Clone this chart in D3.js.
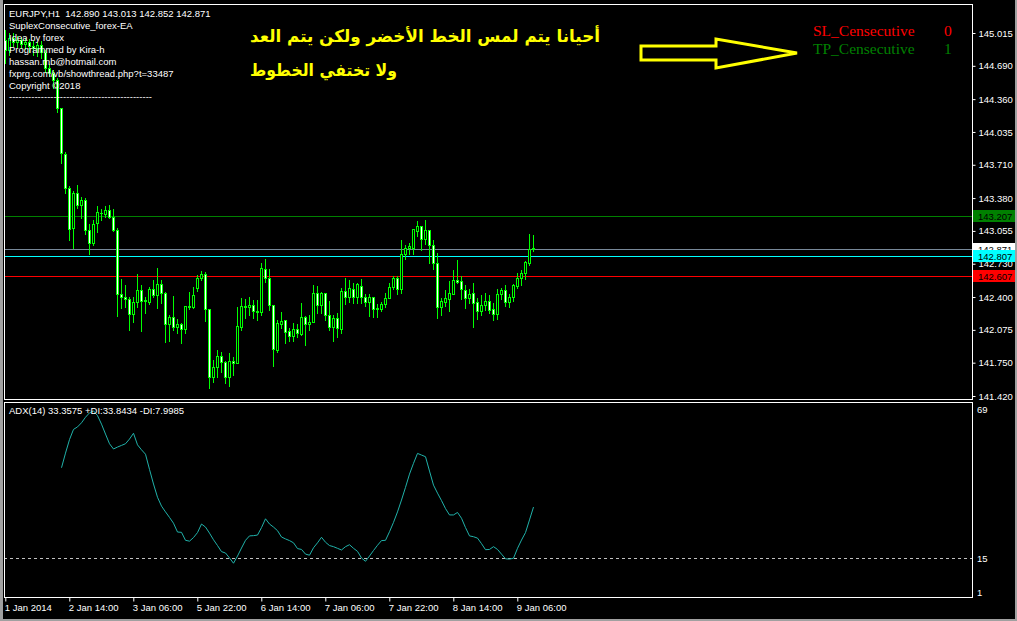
<!DOCTYPE html>
<html>
<head>
<meta charset="utf-8">
<script src="https://cdnjs.cloudflare.com/ajax/libs/d3/7.8.5/d3.min.js"></script>
<style>
  body { margin: 0; background: #000; }
  svg text { font-family: "Liberation Sans", Arial, sans-serif; white-space: pre; }
  svg text.serif { font-family: "Liberation Serif", "Times New Roman", serif; }
  svg text.arabic { font-family: "DejaVu Sans", sans-serif; font-weight: bold; }
</style>
</head>
<body>
<div id="chart"></div>
<script>
// EURJPY H1 candles (bar 0 = 1 Jan 2014)
var opens = [144.946,144.847,144.966,144.926,144.946,144.906,144.926,144.887,144.867,144.897,
  144.827,144.669,144.619,144.550,144.273,143.817,143.481,143.085,143.431,143.312,
  143.362,143.065,142.936,143.134,143.233,143.223,143.263,143.194,143.065,142.431,
  142.402,142.382,142.233,142.352,142.471,142.362,142.352,142.481,142.421,142.530,
  142.441,142.134,142.204,142.105,142.134,142.085,142.313,142.303,142.491,142.590,
  142.629,142.283,141.610,141.709,141.818,141.758,141.610,141.768,141.748,142.105,
  142.313,142.303,142.323,142.263,142.253,142.679,142.590,142.323,141.877,142.134,
  142.174,142.065,142.016,142.085,142.035,142.204,142.134,142.154,142.441,142.323,
  142.441,142.224,142.105,142.194,142.085,142.461,142.402,142.481,142.402,142.511,
  142.402,142.352,142.402,142.293,142.283,142.332,142.392,142.501,142.590,142.481,
  142.827,142.887,142.887,143.055,143.105,142.976,143.065,142.917,142.738,142.303,
  142.352,142.382,142.431,142.570,142.560,142.471,142.392,142.441,142.352,142.263,
  142.323,142.362,142.283,142.233,142.431,142.471,142.352,142.402,142.511,142.590,
  142.639,142.738,142.890]
var highs = [145.045,145.015,145.015,144.986,144.976,144.966,144.956,144.936,144.926,144.936,
  144.847,144.708,144.649,144.570,144.273,143.837,143.501,143.451,143.511,143.392,
  143.382,143.124,143.164,143.303,143.273,143.303,143.312,143.273,143.085,142.580,
  142.521,142.402,142.402,142.629,142.521,142.402,142.501,142.570,142.689,142.570,
  142.451,142.224,142.412,142.184,142.144,142.313,142.451,142.501,142.620,142.659,
  142.649,142.283,141.778,141.877,141.857,141.768,141.847,141.808,142.303,142.392,
  142.382,142.402,142.372,142.372,142.738,142.778,142.679,142.323,142.174,142.253,
  142.174,142.095,142.144,142.134,142.342,142.214,142.224,142.521,142.511,142.451,
  142.441,142.362,142.224,142.243,142.491,142.590,142.570,142.540,142.540,142.580,
  142.431,142.431,142.402,142.332,142.352,142.441,142.540,142.610,142.610,142.966,
  142.917,142.936,143.075,143.154,143.105,143.164,143.065,142.966,142.837,142.392,
  142.471,142.560,142.669,142.768,142.610,142.521,142.481,142.540,142.392,142.421,
  142.441,142.421,142.342,142.481,142.491,142.521,142.431,142.530,142.639,142.669,
  142.758,143.025,143.013]
var lows = [144.718,144.798,144.887,144.877,144.867,144.857,144.827,144.798,144.788,144.768,
  144.629,144.590,144.471,144.233,143.728,143.431,142.966,142.887,143.283,143.184,
  143.025,142.827,142.917,143.045,143.164,143.194,143.184,143.055,142.214,142.293,
  142.303,142.075,142.154,142.303,142.065,142.243,142.332,142.402,142.293,142.342,
  141.956,141.966,142.075,142.045,141.946,142.045,142.283,142.293,142.461,142.570,
  142.164,141.501,141.560,141.610,141.659,141.550,141.521,141.630,141.748,142.075,
  142.194,142.224,142.194,142.174,142.224,142.550,142.273,141.719,141.857,142.095,
  141.946,141.966,141.966,142.006,142.025,141.927,142.075,142.154,142.243,142.243,
  142.174,142.075,141.966,142.006,142.045,142.332,142.352,142.342,142.342,142.342,
  142.313,142.214,142.204,142.204,142.263,142.303,142.392,142.481,142.431,142.441,
  142.778,142.827,142.827,143.006,142.867,142.926,142.738,142.679,142.194,142.224,
  142.313,142.263,142.431,142.540,142.382,142.293,142.342,142.105,142.184,142.224,
  142.273,142.243,142.174,142.184,142.382,142.313,142.303,142.362,142.491,142.521,
  142.580,142.719,142.852]
var closes = [144.847,144.966,144.926,144.946,144.906,144.926,144.887,144.867,144.897,144.827,
  144.669,144.619,144.550,144.273,143.827,143.481,143.075,143.431,143.312,143.362,
  143.065,142.936,143.124,143.243,143.233,143.263,143.194,143.065,142.431,142.402,
  142.382,142.233,142.352,142.471,142.362,142.372,142.481,142.421,142.530,142.441,
  142.134,142.204,142.105,142.134,142.085,142.313,142.303,142.421,142.590,142.629,
  142.283,141.610,141.709,141.818,141.758,141.610,141.768,141.748,142.115,142.313,
  142.303,142.323,142.263,142.253,142.689,142.590,142.323,141.887,142.144,142.164,
  142.055,142.016,142.085,142.045,142.204,142.134,142.154,142.441,142.323,142.441,
  142.224,142.105,142.194,142.095,142.461,142.402,142.491,142.402,142.530,142.402,
  142.352,142.402,142.283,142.283,142.332,142.392,142.501,142.590,142.481,142.827,
  142.887,142.907,143.075,143.105,142.976,143.065,142.917,142.738,142.303,142.362,
  142.392,142.441,142.570,142.550,142.481,142.392,142.431,142.342,142.263,142.323,
  142.362,142.273,142.233,142.431,142.471,142.352,142.402,142.521,142.590,142.639,
  142.748,142.877,142.871]

// ADX(14) main line, first value on bar 14
var adxStart = 14
var adxValues = [47.6,52.9,57.8,61.5,62.4,63.9,65.9,67.5,68.2,66.5,
  63.4,59.8,56.3,54.4,55.1,55.7,56.3,58.0,60.1,55.9,
  54.1,52.5,47.0,41.7,36.9,33.7,31.6,29.6,27.5,24.3,
  24.2,21.3,21.0,22.3,24.1,27.2,26.1,23.9,21.5,19.4,
  17.2,16.7,14.9,13.0,15.6,18.5,21.3,22.9,23.0,23.2,
  25.9,29.1,27.2,26.1,24.8,22.5,21.8,21.2,20.4,18.3,
  18.0,16.3,15.9,18.6,20.4,22.4,20.6,19.4,19.0,18.4,
  17.8,19.0,19.7,18.4,17.3,14.9,13.7,15.6,17.6,19.5,
  21.2,21.3,24.4,27.8,31.6,35.9,40.5,45.3,49.2,52.8,
  52.2,51.6,46.4,41.3,38.4,35.7,32.8,30.5,30.5,31.4,
  29.3,25.9,22.9,22.6,22.1,20.1,17.9,18.0,19.0,18.0,
  16.3,14.6,14.5,14.8,18.4,21.4,24.1,28.7,33.36]
var adxLevel = 15
var adxTicks = [69, 15, 1]

var priceTicks = [145.015,144.690,144.360,144.035,143.710,143.380,143.055,142.730,142.400,142.075,141.750,141.420]
var timeTicks = [0,16,32,48,64,80,96,112,128]
var timeLabels = ['1 Jan 2014','2 Jan 14:00','3 Jan 06:00','5 Jan 22:00','6 Jan 14:00','7 Jan 06:00','7 Jan 22:00','8 Jan 14:00','9 Jan 06:00']

// horizontal lines drawn by the EA + bid/ask
var lineNames = ['tp','bid','ask','sl']
var linePrices = [143.207, 142.871, 142.807, 142.607]
var lineColors = ['#008000', '#778899', '#00ffff', '#ff0000']
var labelBg = ['#008000', '#ffffff', '#00ffff', '#ff0000']

var infoLines = ['EURJPY,H1  142.890 143.013 142.852 142.871','SuplexConsecutive_forex-EA','Idea by forex',
  'Programmed by Kira-h','hassan.mb@hotmail.com','fxprg.com/vb/showthread.php?t=33487','Copyright \u00a92018']
var arabicLines = ['أحيانا يتم لمس الخط الأخضر ولكن يتم العد', 'ولا تختفي الخطوط']
var counterNames = ['SL_Censecutive', 'TP_Censecutive']
var counterValues = [0, 1]
var counterColors = ['#ff0000', '#008000']

var W = 1017, H = 621
var main = {left: 4, right: 972, top: 4, bottom: 399}
var sub = {top: 402, bottom: 597}

var svg = d3.select('#chart').append('svg').attr('width', W).attr('height', H)

// window frame
svg.append('rect').attr('width', W).attr('height', H).attr('fill', '#a0a0a0')
svg.append('rect').attr('x', 3).attr('y', 0).attr('width', 1012).attr('height', 619).attr('fill', '#000')

var x = d3.scaleLinear().domain([0, 100]).range([5.3, 405.3])
var y = d3.scaleLinear().domain([141.420, 145.015]).range([396, 33])
var ya = d3.scaleLinear().domain([15, 69]).range([557.7, 408.7])

// panels
svg.append('clipPath').attr('id', 'mainclip').append('rect')
  .attr('x', main.left + 1).attr('y', main.top + 1)
  .attr('width', main.right - main.left - 1).attr('height', main.bottom - main.top - 1)
svg.append('clipPath').attr('id', 'subclip').append('rect')
  .attr('x', main.left + 1).attr('y', sub.top + 1)
  .attr('width', main.right - main.left - 1).attr('height', sub.bottom - sub.top - 1)

var gMain = svg.append('g').attr('clip-path', 'url(#mainclip)')
var gSub = svg.append('g').attr('clip-path', 'url(#subclip)')

// price lines
lineNames.forEach(function(n, k){
  gMain.append('line')
    .attr('x1', main.left).attr('x2', main.right)
    .attr('y1', Math.round(y(linePrices[k])) + 0.5).attr('y2', Math.round(y(linePrices[k])) + 0.5)
    .attr('stroke', lineColors[k]).attr('stroke-width', 1)
})

// candles
var gCandles = gMain.append('g').attr('shape-rendering', 'crispEdges')
opens.forEach(function(o, i){
  var c = closes[i]
  var px = Math.round(x(i))
  var yh = Math.round(y(highs[i])), yl = Math.round(y(lows[i]))
  var yt = Math.round(y(Math.max(o, c))), yb = Math.round(y(Math.min(o, c)))
  gCandles.append('rect').attr('x', px).attr('y', yh).attr('width', 1).attr('height', Math.max(1, yl - yh + 1)).attr('fill', '#00ff00')
  gCandles.append('rect').attr('x', px - 1).attr('y', yt).attr('width', 3).attr('height', Math.max(1, yb - yt + 1)).attr('fill', '#00ff00')
  if (yb - yt >= 2) {
    gCandles.append('rect').attr('x', px).attr('y', yt + 1).attr('width', 1).attr('height', yb - yt - 1)
      .attr('fill', c < o ? '#ffffff' : '#000000')
  }
})

// ADX
gSub.append('line')
  .attr('x1', main.left).attr('x2', main.right)
  .attr('y1', Math.round(ya(adxLevel)) + 0.5).attr('y2', Math.round(ya(adxLevel)) + 0.5)
  .attr('stroke', '#c0c0c0').attr('stroke-dasharray', '3,3')

var adxLine = d3.line().x(function(d, k){ return Math.round(x(adxStart + k)) + 0.5 }).y(function(d){ return ya(d) })
gSub.append('path').attr('d', adxLine(adxValues)).attr('fill', 'none').attr('stroke', '#20b2aa').attr('stroke-width', 1)

// borders
svg.append('rect').attr('x', main.left + 0.5).attr('y', main.top + 0.5)
  .attr('width', main.right - main.left).attr('height', main.bottom - main.top)
  .attr('fill', 'none').attr('stroke', '#fff')
svg.append('rect').attr('x', main.left + 0.5).attr('y', sub.top + 0.5)
  .attr('width', main.right - main.left).attr('height', sub.bottom - sub.top)
  .attr('fill', 'none').attr('stroke', '#fff')

// price axis
var yAxis = d3.axisRight(y).tickValues(priceTicks).tickFormat(d3.format('.3f')).tickSize(3).tickPadding(3)
var gy = svg.append('g').attr('transform', 'translate(' + (main.right + 0.5) + ',0)').call(yAxis)
gy.select('.domain').remove()
gy.selectAll('line').attr('stroke', '#fff')
gy.selectAll('text').attr('fill', '#fff').attr('font-size', '9.5px').attr('font-family', null)

// price labels on the axis (bid first, ask box drawn over it like the terminal)
drawPriceLabel(0)
drawPriceLabel(1)
drawPriceLabel(2)
drawPriceLabel(3)

function drawPriceLabel(k){
  var yy = Math.round(y(linePrices[k]))
  svg.append('rect').attr('x', main.right + 1).attr('y', yy - 6).attr('width', 42).attr('height', 12).attr('fill', labelBg[k])
  svg.append('text').attr('x', main.right + 6).attr('y', yy + 4).attr('fill', '#000')
    .attr('font-size', '9.5px').text(linePrices[k].toFixed(3))
}

// ADX axis labels (the bottom one sits on the panel edge, as in the terminal)
adxTicks.forEach(function(t){
  var ty = Math.min(ya(t), sub.bottom - 5.3)
  svg.append('text').attr('x', main.right + 5).attr('y', ty + 4).attr('fill', '#fff')
    .attr('font-size', '9.5px').text(t)
})

// time axis
var xAxis = d3.axisBottom(x).tickValues(timeTicks).tickFormat(function(d, k){ return timeLabels[k] }).tickSize(4).tickPadding(3)
var gx = svg.append('g').attr('transform', 'translate(0,' + (sub.bottom + 0.5) + ')').call(xAxis)
gx.select('.domain').remove()
gx.selectAll('line').attr('stroke', '#fff')
gx.selectAll('text').attr('fill', '#fff').attr('font-size', '9.5px').attr('font-family', null)
  .attr('text-anchor', 'start').attr('dx', -1)

// info text
infoLines.forEach(function(t, k){
  svg.append('text').attr('x', 9).attr('y', 16.5 + k * 12).attr('fill', '#fff').attr('font-size', '9.5px').text(t)
})
svg.append('text').attr('x', 9).attr('y', 100).attr('fill', '#fff').attr('font-size', '9.5px')
  .attr('textLength', 143).attr('lengthAdjust', 'spacing').text('---------------------------------------------')

svg.append('text').attr('x', 9).attr('y', 414).attr('fill', '#fff').attr('font-size', '9.5px')
  .text('ADX(14) 33.3575 +DI:33.8434 -DI:7.9985')

// arabic note
svg.append('text').attr('class', 'arabic').attr('x', 250).attr('y', 42).attr('fill', '#ffff00')
  .attr('font-size', '17px')
  .attr('textLength', 350).attr('lengthAdjust', 'spacingAndGlyphs').text(arabicLines[0])
svg.append('text').attr('class', 'arabic').attr('x', 250).attr('y', 76).attr('fill', '#ffff00')
  .attr('font-size', '17px')
  .attr('textLength', 147).attr('lengthAdjust', 'spacingAndGlyphs').text(arabicLines[1])

// arrow
svg.append('path')
  .attr('d', 'M641,46 L716,46 L716,39 L797,53 L716,68 L716,60 L641,60 Z')
  .attr('fill', 'none').attr('stroke', '#ffff00').attr('stroke-width', 3).attr('stroke-linejoin', 'miter')

// counters
counterNames.forEach(function(n, k){
  svg.append('text').attr('class', 'serif').attr('x', 813).attr('y', 36 + k * 18).attr('fill', counterColors[k])
    .attr('font-size', '15.5px').text(n)
  svg.append('text').attr('class', 'serif').attr('x', 944).attr('y', 36 + k * 18).attr('fill', counterColors[k])
    .attr('font-size', '15.5px').text(counterValues[k])
})
</script>
</body>
</html>
